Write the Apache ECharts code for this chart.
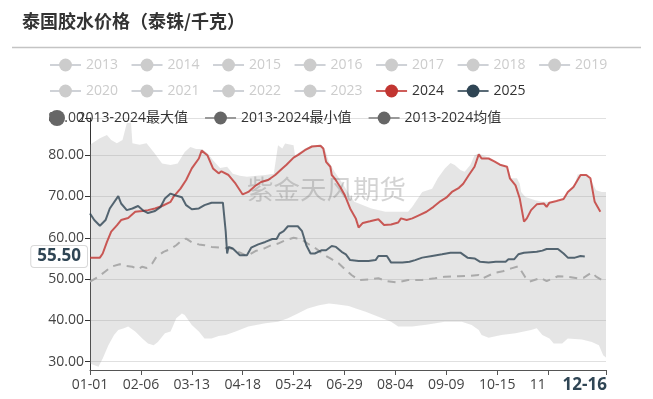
<!DOCTYPE html>
<html>
<head>
<meta charset="utf-8">
<script src="https://cdn.jsdelivr.net/npm/echarts@6/dist/echarts.min.js"></script>
<style>html,body{margin:0;padding:0;background:#fff}#c{width:653px;height:399px}</style>
</head>
<body>
<div id="c"></div>
<script>
// x values are day-of-year indices into DAYS (0 = 01-01, leap-year calendar)
const MONTH_LEN = [31,29,31,30,31,30,31,31,30,31,30,31];
const DAYS = [];
MONTH_LEN.forEach((n, m) => { for (let d = 1; d <= n; d++) DAYS.push(String(m + 1).padStart(2, '0') + '-' + String(d).padStart(2, '0')); });

const TITLE = '泰国胶水价格（泰铢/千克）';
const WATERMARK = '紫金天风期货';
const OLD_YEARS = ['2013','2014','2015','2016','2017','2018','2019','2020','2021','2022','2023'];
const NAME_MAX = '2013-2024最大值';
const NAME_MIN = '2013-2024最小值';
const NAME_AVG = '2013-2024均值';
const Y_MIN = 28, Y_MAX = 89;
const LABEL_STEP = 36;
const POINTER_DAY = '12-16';
const POINTER_VALUE = 55.5;

const Y2024 = [[0,55.2],[7,55.2],[9,56.2],[12,59],[15,61.5],[19,63],[22,64.3],[27,64.8],[32,66.3],[37,66.5],[41,66.7],[46,67.1],[51,67.7],[57,68.7],[59,69.9],[64,71.9],[68,74],[72,76.8],[77,79.2],[79,81.1],[83,80],[87,76.8],[91,75.6],[93,76.1],[98,75.2],[103,73.1],[108,70.5],[112,71.1],[117,72.6],[121,73.5],[126,74],[131,75.2],[136,76.8],[139,77.7],[144,79.4],[147,80],[152,81.2],[157,82.1],[163,82.3],[165,81.6],[167,78.4],[170,77.2],[171,75.2],[173,74.4],[177,72.3],[180,70.5],[184,67.1],[188,64.7],[190,62.5],[193,63.6],[198,64],[204,64.5],[208,63.1],[213,63.2],[218,63.7],[220,64.7],[224,64.3],[228,64.7],[233,65.5],[238,66.3],[243,67.5],[248,68.9],[252,69.7],[256,71.1],[261,72.1],[264,73.1],[268,75.2],[272,77.2],[275,80.2],[277,79.2],[282,79.2],[286,78.5],[290,77.7],[295,77.2],[297,74.4],[301,72.7],[304,69.5],[307,63.9],[309,64.7],[312,66.7],[316,68.1],[321,68.3],[323,67.5],[325,68.5],[330,68.9],[335,69.4],[338,71.1],[342,72.3],[347,75.2],[351,75.2],[354,74.4],[357,68.7],[361,66.3]];

const Y2025 = [[0,65.9],[3,64.3],[7,62.9],[11,64.3],[14,67.1],[20,70.1],[22,68.3],[26,66.7],[30,67.1],[34,67.7],[38,66.5],[41,66],[46,66.5],[50,67.5],[53,69.5],[57,70.7],[60,70.3],[65,69.8],[68,67.9],[72,66.9],[77,67.1],[81,67.9],[86,68.5],[94,68.5],[96,61.5],[97,56.2],[98,57.8],[101,57.4],[106,55.8],[111,55.8],[114,57.6],[119,58.4],[124,59],[129,59.7],[132,59.7],[134,61],[137,61.6],[140,62.8],[147,62.8],[150,61.6],[153,58.2],[156,56.2],[159,56.2],[164,57],[167,57],[171,58],[174,57.8],[178,56.6],[181,56],[184,54.6],[190,54.4],[197,54.4],[202,54.6],[204,55.6],[210,55.6],[213,54],[221,54],[226,54.2],[230,54.6],[235,55.2],[242,55.6],[249,56],[255,56.4],[262,56.4],[267,55.2],[272,55],[276,54.2],[282,54],[287,54.2],[294,54.2],[296,54.8],[300,54.8],[303,56],[307,56.4],[316,56.6],[320,56.9],[323,57.3],[331,57.3],[335,56.2],[338,55.2],[343,55.2],[347,55.6],[350,55.5]];

const AVG = [[0,49.4],[6,50.6],[11,51.9],[15,53],[21,53.6],[25,53.2],[30,53],[34,52.4],[37,53],[40,52.7],[44,53.8],[47,55.4],[52,56.6],[57,57.3],[61,58.2],[65,59.4],[68,59.8],[72,58.9],[77,58.4],[81,58.2],[86,57.8],[93,57.6],[100,57.4],[105,56.6],[111,55.6],[117,56.8],[123,57.4],[128,58.2],[133,58.6],[138,59.4],[144,60],[149,59.7],[154,58.6],[159,57.6],[166,55.8],[170,55],[176,53.8],[180,52.5],[185,51],[190,49.8],[197,49.9],[204,50.2],[210,49.5],[217,49.2],[225,49.8],[235,49.8],[244,50.2],[251,50.6],[261,50.7],[268,50.8],[275,51],[278,50.2],[286,51.5],[292,51.9],[298,52.6],[303,53.1],[308,50.4],[311,49.4],[319,50.3],[323,49.5],[331,50.7],[337,50.6],[345,50.2],[349,50.3],[355,51.6],[358,50.6],[365,49.2]];

const MAXV = [[0,82.5],[7,84.1],[12,84.9],[15,83.7],[19,82.9],[23,83.7],[26,87.7],[29,87.9],[30,82.9],[35,82.5],[40,82.9],[45,80.8],[51,78],[57,77.6],[62,78],[67,80.8],[71,82],[75,81.5],[79,81.5],[83,80.5],[87,78.8],[92,76.9],[97,77.2],[101,75.5],[106,75],[111,74.8],[118,75],[124,75.2],[130,75.5],[133,82.4],[136,81.6],[138,82.8],[144,82.4],[145,80],[147,80.4],[152,81.6],[157,82.4],[164,82.4],[166,81.6],[169,78.4],[173,76],[178,73.5],[183,70.7],[187,68.7],[199,67.1],[209,66.3],[225,66.3],[228,67.5],[235,71.1],[242,71.9],[246,74.4],[251,76.8],[255,78.1],[258,77.6],[262,76.4],[265,76],[269,77.6],[272,80],[275,80.4],[282,79.4],[285,78.6],[290,77.8],[295,77.3],[298,74.4],[302,74.4],[304,73.1],[305,71.1],[308,69.9],[315,69.1],[320,68.7],[331,68.7],[334,69.1],[338,71.1],[343,73.1],[345,75.3],[352,75.3],[355,73.5],[358,71.5],[362,71.1],[365,71.1]];

const MINV = [[0,29.6],[6,28.8],[9,30.8],[13,34],[17,36.5],[20,37.7],[24,38.1],[27,38.5],[32,37.3],[37,35.6],[41,34.4],[45,34],[48,34.8],[53,36.9],[57,37.3],[59,38.9],[61,40.5],[65,41.7],[67,41.3],[72,38.9],[77,37.3],[81,35.6],[86,35.6],[91,36.2],[96,36.5],[103,37.3],[112,38.5],[124,39.3],[133,39.7],[140,40.5],[147,41.7],[154,42.9],[162,43.7],[169,44.1],[174,43.9],[183,43.5],[188,42.9],[195,42.1],[204,40.9],[213,39.7],[218,38.5],[228,38.5],[239,39],[251,39.7],[263,39.7],[270,38.9],[275,37.7],[277,36.5],[282,35.8],[291,36.5],[301,36.9],[312,37.7],[316,38.1],[320,36.5],[325,35.6],[328,34.4],[334,34.4],[338,35.6],[348,35.4],[355,34.8],[360,34],[363,31.6],[365,31]];

const FONT = "'Open Sans','Noto Sans CJK SC',sans-serif";
const chart = echarts.init(document.getElementById('c'));
const pointerIdx = DAYS.indexOf(POINTER_DAY);

const legendBase = {
  type: 'plain', left: 44, itemWidth: 31, itemHeight: 16, itemGap: 12.5,
  inactiveColor: '#ccc', textStyle: {fontSize: 14, color: '#333', fontFamily: FONT}
};
const offSel = {}; OLD_YEARS.forEach(y => offSel[y] = false);

const series = OLD_YEARS.map(y => ({name: y, type: 'line', data: [], symbol: 'circle', color: '#c23531'}));
series.push({
  name: NAME_MAX, type: 'custom', z: 1, silent: true, data: MAXV,
  itemStyle: {color: '#666'}, encode: {x: 0, y: 1},
  renderItem: function (params, api) {
    if (params.dataIndex !== 0) return null;
    const up = MAXV.map(p => api.coord(p));
    const low = MINV.slice().reverse().map(p => api.coord(p));
    return {type: 'polygon', shape: {points: up.concat(low)}, style: {fill: 'rgba(160,160,160,0.27)'}};
  }
});
series.push({name: NAME_MIN, type: 'line', z: 1, data: MINV, symbol: 'circle', showSymbol: false, silent: true,
  itemStyle: {color: '#666'}, lineStyle: {width: 2, color: '#999', opacity: 0}});
series.push({name: NAME_AVG, type: 'line', z: 2, data: AVG, symbol: 'circle', showSymbol: false, silent: true,
  itemStyle: {color: '#666'}, lineStyle: {width: 2, color: '#aaa', type: [8, 6]}});
series.push({name: '2024', type: 'line', z: 3, data: Y2024, symbol: 'circle', showSymbol: false, silent: true,
  itemStyle: {color: '#c23531'}, lineStyle: {width: 2, color: '#c23531', opacity: 0.8}});
series.push({name: '2025', type: 'line', z: 4, data: Y2025, symbol: 'circle', showSymbol: false, silent: true,
  itemStyle: {color: '#2f4554'}, lineStyle: {width: 2, color: '#2f4554', opacity: 0.8}});

chart.setOption({
  animation: false,
  textStyle: {fontFamily: FONT},
  title: {text: TITLE, left: 22, top: 12, padding: 0,
    textStyle: {fontSize: 18, fontWeight: 'bold', color: '#333', fontFamily: "'Noto Sans CJK SC'"}},
  graphic: [
    {type: 'line', shape: {x1: 12, y1: 47.5, x2: 641, y2: 47.5}, style: {stroke: '#c4c4c4', lineWidth: 1.5}, z: 10},
    {type: 'text', left: 247, top: 176, z: 1.5, silent: true,
      style: {text: WATERMARK, fontSize: 26.5, fill: 'rgba(110,110,110,0.3)', fontFamily: "'Noto Sans CJK SC'"}}
  ],
  legend: [
    Object.assign({}, legendBase, {top: 53, data: OLD_YEARS.slice(0, 7), selected: offSel}),
    Object.assign({}, legendBase, {top: 79, data: OLD_YEARS.slice(7).concat(['2024', '2025']), selected: offSel}),
    Object.assign({}, legendBase, {top: 105, itemGap: 16, data: [
      {name: NAME_MAX, icon: 'circle'},
      {name: NAME_MIN, lineStyle: {opacity: 1, color: '#999', width: 2}},
      {name: NAME_AVG, lineStyle: {type: 'solid', color: '#999'}}
    ]})
  ],
  grid: {left: 90, right: 47, top: 118, bottom: 29, containLabel: false},
  xAxis: {
    type: 'category', data: DAYS, boundaryGap: false,
    axisLine: {lineStyle: {color: '#555', width: 1}},
    axisTick: {interval: i => (i % LABEL_STEP === 0 && i < pointerIdx - 20) || i === DAYS.length - 1, length: 5, lineStyle: {color: '#555'}},
    axisLabel: {interval: i => i % LABEL_STEP === 0 && i < pointerIdx - 20, color: '#444', fontSize: 14, margin: 8, fontFamily: FONT},
    splitLine: {show: false},
    axisPointer: {show: true, type: 'none', value: pointerIdx, status: 'show', snap: false,
      label: {show: true, backgroundColor: '#fff', color: '#2f4554', fontWeight: 'bold', fontSize: 17,
        padding: [2, 18], margin: 5, fontFamily: FONT, shadowBlur: 0}}
  },
  yAxis: {
    type: 'value', min: Y_MIN, max: Y_MAX,
    axisLine: {show: true, lineStyle: {color: '#333'}},
    axisTick: {show: true, length: 5, lineStyle: {color: '#333'}},
    axisLabel: {color: '#444', fontSize: 14, margin: 6, formatter: v => v.toFixed(2), fontFamily: FONT},
    splitLine: {show: true, lineStyle: {color: '#e0e0e0', width: 1}},
    axisPointer: {show: true, type: 'none', value: POINTER_VALUE, status: 'show',
      label: {show: true, backgroundColor: '#fff', color: '#2f4554', fontWeight: 'bold', fontSize: 17,
        borderColor: '#d8d8d8', borderWidth: 1, padding: [2, 6], margin: 3, fontFamily: FONT,
        formatter: p => Number(p.value).toFixed(2)}}
  },
  series: series
});
</script>
</body>
</html>
